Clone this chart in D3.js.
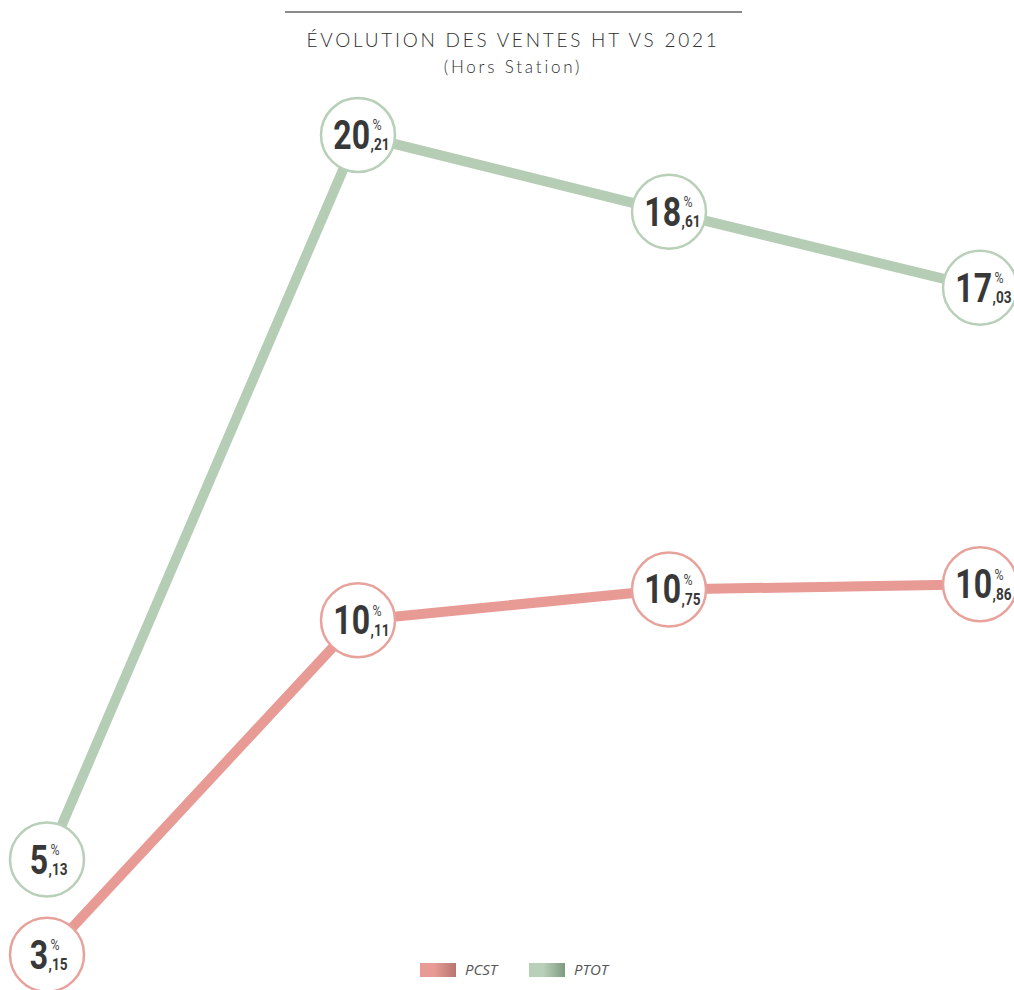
<!DOCTYPE html>
<html>
<head>
<meta charset="utf-8">
<script src="https://cdn.jsdelivr.net/npm/d3@7"></script>
<style>
  html, body { margin: 0; padding: 0; background: #fff; }
  svg { display: block; }
</style>
</head>
<body>
<svg id="chart" width="1014" height="990"></svg>
<script>
// Periods along the x axis (not labelled on the chart)
const periods = ["P1", "P2", "P3", "P4"];
// Sales growth vs 2021, in %
const pcstValues = [3.15, 10.11, 10.75, 10.86];
const ptotValues = [5.13, 20.21, 18.61, 17.03];
const seriesNames = ["PCST", "PTOT"];

const title = "ÉVOLUTION DES VENTES HT VS 2021";
const subtitle = "(Hors Station)";

const colors = {
  PCST: { line: "#e89a94", ring: "#e8a29c", g0: "#e89a94", g1: "#b77570" },
  PTOT: { line: "#b4cdb4", ring: "#b8cfb8", g0: "#b8d0b8", g1: "#7f9a80" }
};

const svg = d3.select("#chart");

const x = d3.scalePoint().domain(periods).range([47, 980]);
const y = d3.scaleLinear().domain([0, 20]).range([1106, 145]);

// Title rule and headings
svg.append("line")
  .attr("x1", 285).attr("x2", 742).attr("y1", 12).attr("y2", 12)
  .attr("stroke", "#8a8a8a").attr("stroke-width", 2);
svg.append("text")
  .attr("x", 513).attr("y", 47).attr("text-anchor", "middle")
  .attr("font-family", "Lato, 'Open Sans', sans-serif").attr("font-weight", 300)
  .attr("font-size", 19)
  .attr("letter-spacing", 2.75).attr("fill", "#2e2e2e")
  .text(title);
svg.append("text")
  .attr("x", 513).attr("y", 73).attr("text-anchor", "middle")
  .attr("font-family", "Lato, 'Open Sans', sans-serif").attr("font-weight", 300)
  .attr("font-size", 17)
  .attr("letter-spacing", 2.8).attr("fill", "#2e2e2e")
  .text(subtitle);

const series = [
  { name: "PTOT", values: ptotValues },
  { name: "PCST", values: pcstValues }
];

const line = d3.line()
  .x((d, i) => x(periods[i]))
  .y(d => y(d));

// Lines first, so the value circles sit on top
series.forEach(s => {
  svg.append("path")
    .datum(s.values)
    .attr("d", line)
    .attr("fill", "none")
    .attr("stroke", colors[s.name].line)
    .attr("stroke-width", 10);
});

const R = 37;
const sx = 0.8;
series.forEach(s => {
  const g = svg.append("g");
  s.values.forEach((v, i) => {
    const cx = x(periods[i]);
    const cy = y(v);
    const node = g.append("g").attr("transform", `translate(${cx},${cy})`);
    node.append("circle")
      .attr("r", R)
      .attr("fill", "#fff")
      .attr("stroke", colors[s.name].ring)
      .attr("stroke-width", 2.5);

    // Integer part large, "%" raised and decimals lowered beside it
    const [intPart, decPart] = v.toFixed(2).split(".");
    const off = intPart.length === 1 ? 1 : 12;
    const t = node.append("g").attr("transform", `scale(${sx},1)`)
      .append("text")
      .attr("font-family", "Roboto, 'Liberation Sans', sans-serif")
      .attr("fill", "#383838");
    t.append("tspan")
      .attr("x", off / sx).attr("y", 14)
      .attr("text-anchor", "end")
      .attr("font-weight", 700).attr("font-size", 40)
      .text(intPart);
    t.append("tspan")
      .attr("x", (off + 2.5) / sx).attr("y", -4.5)
      .attr("text-anchor", "start")
      .attr("font-weight", 400).attr("font-size", 15.5)
      .attr("fill", "#444")
      .text("%");
    t.append("tspan")
      .attr("x", (off + 0.6) / sx).attr("y", 15.4)
      .attr("text-anchor", "start")
      .attr("font-weight", 700).attr("font-size", 17)
      .text("," + decPart);
  });
});

// Legend with gradient swatches
const defs = svg.append("defs");
seriesNames.forEach(n => {
  const grad = defs.append("linearGradient").attr("id", "grad-" + n)
    .attr("x1", "0%").attr("x2", "100%").attr("y1", "0%").attr("y2", "0%");
  grad.append("stop").attr("offset", "0%").attr("stop-color", colors[n].g0);
  grad.append("stop").attr("offset", "40%").attr("stop-color", colors[n].g0);
  grad.append("stop").attr("offset", "100%").attr("stop-color", colors[n].g1);
});
const legendX = d3.scaleOrdinal().domain(seriesNames).range([420, 529]);
const legend = svg.append("g");
seriesNames.forEach(n => {
  const lx = legendX(n);
  legend.append("rect")
    .attr("x", lx).attr("y", 963).attr("width", 36).attr("height", 14)
    .attr("fill", `url(#grad-${n})`);
  legend.append("text")
    .attr("x", lx + 45).attr("y", 975)
    .attr("font-family", "'Open Sans', Lato, sans-serif")
    .attr("font-style", "italic").attr("font-size", 15)
    .attr("fill", "#555")
    .text(n);
});
</script>
</body>
</html>
